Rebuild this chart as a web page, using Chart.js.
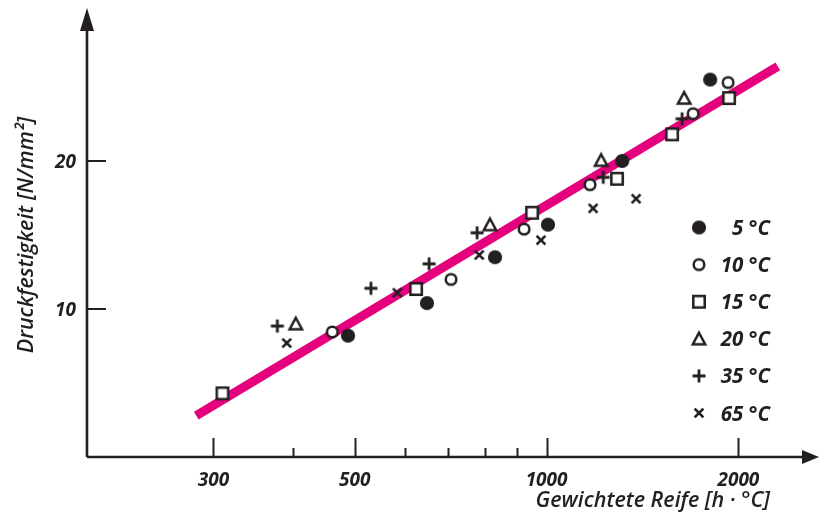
<!DOCTYPE html>
<html lang="de">
<head>
<meta charset="utf-8">
<title>Druckfestigkeit über gewichtete Reife</title>
<script src="https://cdn.jsdelivr.net/npm/chart.js@4/dist/chart.umd.min.js"></script>
<style>
  html, body { margin: 0; padding: 0; background: #fff; }
  canvas { display: block; }
</style>
</head>
<body>
<canvas id="reife" width="819" height="515"></canvas>
<script>
const temperaturen = ["5 °C", "10 °C", "15 °C", "20 °C", "35 °C", "65 °C"];

const reife5 = [488, 649, 830, 1005, 1314, 1806];
const festigkeit5 = [8.2, 10.4, 13.5, 15.7, 20.0, 25.5];

const reife10 = [461, 708, 922, 1170, 1698, 1927];
const festigkeit10 = [8.45, 12.0, 15.4, 18.4, 23.2, 25.3];

const reife15 = [310, 624, 949, 1290, 1574, 1934];
const festigkeit15 = [4.3, 11.35, 16.5, 18.8, 21.8, 24.25];

const reife20 = [404, 815, 1218, 1644];
const festigkeit20 = [9.0, 15.7, 20.05, 24.25];

const reife35 = [378, 530, 654, 778, 1227, 1632];
const festigkeit35 = [8.85, 11.4, 13.05, 15.15, 18.9, 22.85];

const reife65 = [391, 583, 784, 980, 1183, 1382];
const festigkeit65 = [7.7, 11.1, 13.65, 14.65, 16.8, 17.45];

// Ausgleichsgerade (Anfang und Ende)
const geradeReife = [282, 2306];
const geradeFestigkeit = [2.8, 26.4];

const xTicks = [300, 500, 1000, 2000];
const xNebenTicks = [400, 600, 700, 800, 900];
const yTicks = [10, 20];

const SCHWARZ = "#231f20";
const PINK = "#e5007d";
const SCHRIFT = "'Open Sans', 'DejaVu Sans', sans-serif";

function macheMarker(art) {
  const c = document.createElement("canvas");
  c.width = 20;
  c.height = 20;
  const ctx = c.getContext("2d");
  ctx.strokeStyle = SCHWARZ;
  ctx.fillStyle = "#fff";
  ctx.lineWidth = 2.5;
  ctx.beginPath();
  if (art === "voll") {
    ctx.arc(10, 10, 7.1, 0, Math.PI * 2);
    ctx.fillStyle = SCHWARZ;
    ctx.fill();
  } else if (art === "kreis") {
    ctx.arc(10, 10, 5.3, 0, Math.PI * 2);
    ctx.fill();
    ctx.stroke();
  } else if (art === "quadrat") {
    ctx.rect(4.3, 4.3, 11.4, 11.4);
    ctx.fill();
    ctx.stroke();
  } else if (art === "dreieck") {
    ctx.moveTo(10, 4);
    ctx.lineTo(16.2, 15.5);
    ctx.lineTo(3.8, 15.5);
    ctx.closePath();
    ctx.lineJoin = "miter";
    ctx.fill();
    ctx.stroke();
  } else if (art === "plus") {
    ctx.lineWidth = 2.8;
    ctx.moveTo(3.5, 10);
    ctx.lineTo(16.5, 10);
    ctx.moveTo(10, 3.5);
    ctx.lineTo(10, 16.5);
    ctx.stroke();
  } else if (art === "kreuz") {
    ctx.lineWidth = 2.7;
    ctx.moveTo(5.6, 5.6);
    ctx.lineTo(14.4, 14.4);
    ctx.moveTo(14.4, 5.6);
    ctx.lineTo(5.6, 14.4);
    ctx.stroke();
  }
  return c;
}

const marker = ["voll", "kreis", "quadrat", "dreieck", "plus", "kreuz"].map(macheMarker);

function punkte(xs, ys) {
  return xs.map((x, i) => ({ x: x, y: ys[i] }));
}

const reihen = [
  punkte(reife5, festigkeit5),
  punkte(reife10, festigkeit10),
  punkte(reife15, festigkeit15),
  punkte(reife20, festigkeit20),
  punkte(reife35, festigkeit35),
  punkte(reife65, festigkeit65)
];

const achsenPlugin = {
  id: "achsen",
  beforeDatasetsDraw(chart) {
    const ctx = chart.ctx;
    const xs = chart.scales.x;
    const ys = chart.scales.y;
    const x0 = chart.chartArea.left;
    const y0 = chart.chartArea.bottom;
    ctx.save();
    ctx.strokeStyle = SCHWARZ;
    ctx.fillStyle = SCHWARZ;

    // Achsenlinien
    ctx.lineWidth = 2.6;
    ctx.beginPath();
    ctx.moveTo(x0, y0);
    ctx.lineTo(x0, 28);
    ctx.moveTo(x0, y0);
    ctx.lineTo(806, y0);
    ctx.stroke();

    // Pfeilspitzen
    ctx.beginPath();
    ctx.moveTo(x0, 8);
    ctx.lineTo(x0 - 7, 31);
    ctx.lineTo(x0 + 7, 31);
    ctx.closePath();
    ctx.fill();
    ctx.beginPath();
    ctx.moveTo(819, y0);
    ctx.lineTo(802, y0 - 7);
    ctx.lineTo(802, y0 + 7);
    ctx.closePath();
    ctx.fill();

    // Teilstriche nach innen
    ctx.lineWidth = 2;
    ctx.beginPath();
    xTicks.forEach(t => {
      const px = Math.round(xs.getPixelForValue(t)) + 0.5;
      ctx.moveTo(px, y0);
      ctx.lineTo(px, y0 - 19);
    });
    xNebenTicks.forEach(t => {
      const px = Math.round(xs.getPixelForValue(t)) + 0.5;
      ctx.moveTo(px, y0);
      ctx.lineTo(px, y0 - 9);
    });
    yTicks.forEach(t => {
      const py = Math.round(ys.getPixelForValue(t));
      ctx.moveTo(x0, py);
      ctx.lineTo(x0 + 19, py);
    });
    ctx.stroke();

    // Beschriftung
    ctx.font = `italic bold 19px ${SCHRIFT}`;
    ctx.textBaseline = "alphabetic";
    ctx.textAlign = "center";
    xTicks.forEach(t => ctx.fillText(String(t), xs.getPixelForValue(t), 486));
    ctx.textAlign = "right";
    yTicks.forEach(t => ctx.fillText(String(t), 76, ys.getPixelForValue(t) + 7));

    ctx.font = `italic 600 21.5px ${SCHRIFT}`;
    ctx.textAlign = "right";
    ctx.fillText("Gewichtete Reife [h · °C]", 770, 507);

    ctx.save();
    ctx.translate(33, 235);
    ctx.rotate(-Math.PI / 2);
    ctx.textAlign = "center";
    ctx.fillText("Druckfestigkeit [N/mm²]", 0, 0);
    ctx.restore();

    ctx.restore();
  },
  afterDatasetsDraw(chart) {
    // Legende rechts im Diagramm
    const ctx = chart.ctx;
    ctx.save();
    ctx.fillStyle = SCHWARZ;
    ctx.font = `italic bold 20.5px ${SCHRIFT}`;
    ctx.textAlign = "right";
    ctx.textBaseline = "alphabetic";
    temperaturen.forEach((name, i) => {
      const y = 227.5 + i * 37.1;
      ctx.drawImage(marker[i], 699 - 10, y - 10);
      ctx.fillText(name, 770, y + 7.5);
    });
    ctx.restore();
  }
};

new Chart(document.getElementById("reife"), {
  type: "scatter",
  data: {
    datasets: [
      ...reihen.map((daten, i) => ({
        label: temperaturen[i],
        data: daten,
        pointStyle: marker[i],
        showLine: false
      })),
      {
        type: "line",
        label: "Ausgleichsgerade",
        data: punkte(geradeReife, geradeFestigkeit),
        borderColor: PINK,
        borderWidth: 9,
        borderCapStyle: "butt",
        pointRadius: 0,
        fill: false
      }
    ]
  },
  options: {
    responsive: false,
    animation: false,
    layout: { padding: { left: 87, right: 8, top: 13, bottom: 58 } },
    scales: {
      x: { type: "logarithmic", min: 190, max: 2600, display: false },
      y: { type: "linear", min: 0, max: 30, display: false }
    },
    plugins: {
      legend: { display: false },
      tooltip: { enabled: false }
    }
  },
  plugins: [achsenPlugin]
});
</script>
</body>
</html>
